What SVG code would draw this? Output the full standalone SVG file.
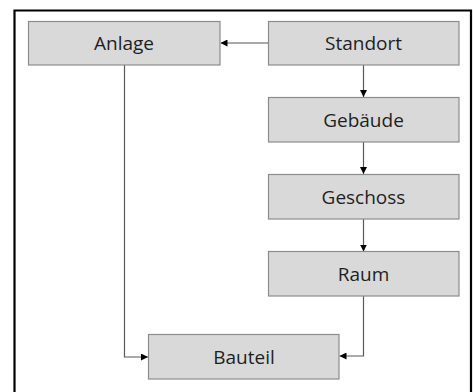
<svg xmlns="http://www.w3.org/2000/svg" width="473" height="392" viewBox="0 0 473 392">
<style>
.box{fill:#d9d9d9;stroke:#8c8c8c;stroke-width:1.2}
.lbl{font-family:"Open Sans","Liberation Sans",sans-serif;font-size:19px;fill:#1f1f1f;text-anchor:middle;dominant-baseline:central}
.con{fill:none;stroke:#595959;stroke-width:1.2;marker-end:url(#arr)}
</style>
<defs>
<marker id="arr" viewBox="0 0 10 10" refX="10" refY="5" markerWidth="7" markerHeight="7" markerUnits="userSpaceOnUse" orient="auto">
<path d="M0,0 L10,5 L0,10 z" fill="#000"/>
</marker>
</defs>
<rect width="473" height="392" fill="#fff"/>
<path d="M14.5,392 V10.5 H471 V392" fill="none" stroke="#000" stroke-width="2.2"/>
<g id="connectors">
<path class="con" d="M268,43 H220.5"/>
<path class="con" d="M363.5,65 V97"/>
<path class="con" d="M363.5,142 V174"/>
<path class="con" d="M363.5,219 V251.5"/>
<path class="con" d="M124.5,65 V357 H148"/>
<path class="con" d="M363.5,296 V356 H339.5"/>
</g>
<g id="anlage"><rect class="box" x="28.5" y="21.5" width="191.5" height="43.5"/><text class="lbl" x="124" y="42.5">Anlage</text></g>
<g id="standort"><rect class="box" x="268.5" y="21.5" width="190.5" height="43.5"/><text class="lbl" x="363.5" y="42.5">Standort</text></g>
<g id="gebaeude"><rect class="box" x="268.5" y="97.5" width="190.5" height="44.5"/><text class="lbl" x="363.5" y="119.5">Gebäude</text></g>
<g id="geschoss"><rect class="box" x="268.5" y="174.5" width="190.5" height="44.5"/><text class="lbl" x="363.5" y="196.5">Geschoss</text></g>
<g id="raum"><rect class="box" x="268.5" y="251.5" width="190.5" height="44.5"/><text class="lbl" x="363.5" y="273.5">Raum</text></g>
<g id="bauteil"><rect class="box" x="148.5" y="334.5" width="190.5" height="44.5"/><text class="lbl" x="244" y="356.5">Bauteil</text></g>
</svg>
